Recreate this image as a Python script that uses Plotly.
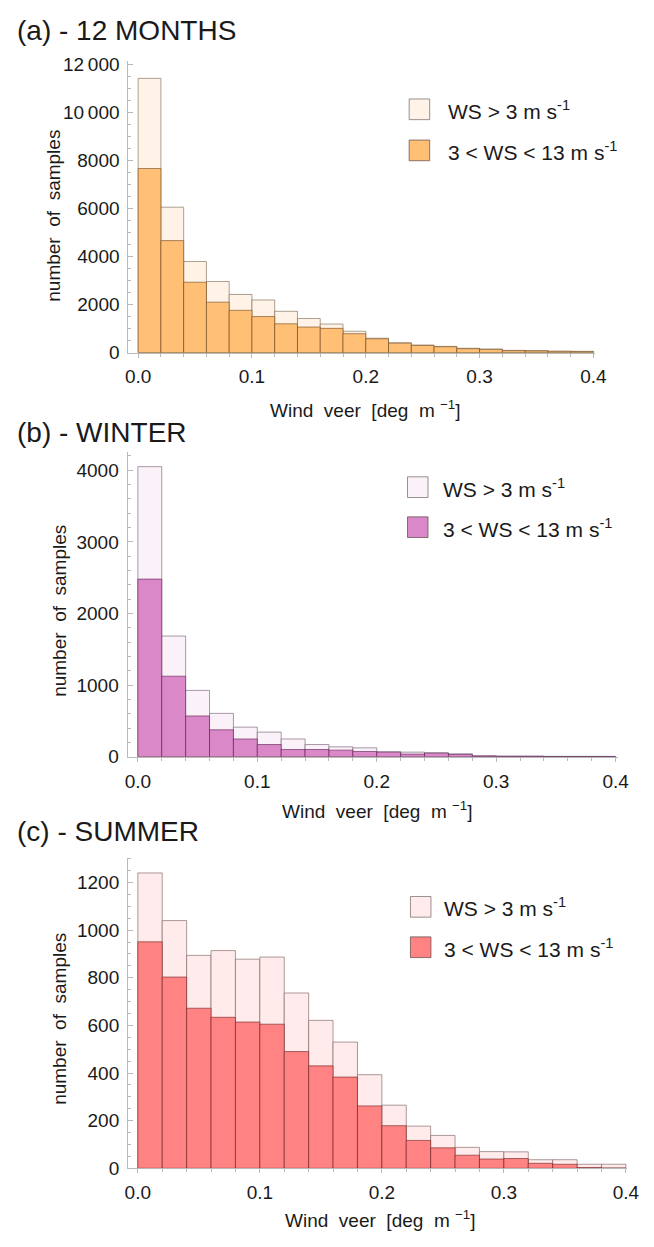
import plotly.graph_objects as go

W, H = 654, 1247

# ---- data ----
bin_left = [0.00, 0.02, 0.04, 0.06, 0.08, 0.10, 0.12, 0.14, 0.16, 0.18,
            0.20, 0.22, 0.24, 0.26, 0.28, 0.30, 0.32, 0.34, 0.36, 0.38]
bin_width = 0.02

a_total = [11410, 6050, 3790, 2960, 2420, 2190, 1720, 1420, 1190, 890,
           600, 410, 315, 260, 180, 150, 95, 85, 60, 55]
a_sub = [7660, 4660, 2930, 2100, 1760, 1500, 1200, 1065, 1010, 790,
         575, 395, 300, 245, 165, 135, 80, 70, 55, 45]

b_total = [4050, 1685, 926, 605, 413, 344, 248, 170, 138, 124,
           69, 64, 55, 41, 14, 9, 9, 5, 5, 5]
b_sub = [2480, 1124, 569, 376, 248, 170, 101, 101, 92, 73,
         64, 37, 50, 32, 9, 5, 5, 3, 3, 3]

c_total = [1240, 1040, 894, 914, 878, 887, 736, 621, 530, 393,
           265, 177, 138, 88, 70, 69, 36, 36, 17, 17]
c_sub = [951, 803, 672, 634, 614, 605, 490, 430, 383, 262,
         179, 117, 86, 55, 39, 41, 21, 17, 3, 1]

x_tickvals = [0.0, 0.1, 0.2, 0.3, 0.4]
x_ticktext = ["0.0", "0.1", "0.2", "0.3", "0.4"]

a_tickvals = [0, 2000, 4000, 6000, 8000, 10000, 12000]
a_ticktext = ["0", "2000", "4000", "6000", "8000", "10\u2009000", "12\u2009000"]
b_tickvals = [0, 1000, 2000, 3000, 4000]
b_ticktext = ["0", "1000", "2000", "3000", "4000"]
c_tickvals = [0, 200, 400, 600, 800, 1000, 1200]
c_ticktext = ["0", "200", "400", "600", "800", "1000", "1200"]

titles = ["(a) - 12 MONTHS", "(b) - WINTER", "(c) - SUMMER"]
legend_labels = ["WS > 3 m s<sup>-1</sup>", "3 < WS < 13 m s<sup>-1</sup>"]

# ---- styling / geometry (pixels in the window) ----
FONT = "Liberation Sans, Arial, Helvetica, sans-serif"
TXT = "#1a1a1a"
AXC = "#b8b8b8"

panels = [
    dict(total=a_total, sub=a_sub, tv=a_tickvals, tt=a_ticktext, minor=500,
         light="#FEF3E6", strong="#FFBF75", edge_l="rgba(120,100,80,0.6)", edge_s="rgba(110,70,30,0.6)",
         box=(128.3, 606, 55, 350.7), xr=(-0.0086, 0.4015), yr=(0, 12123),
         title_y=23.5, ylab=(52, 212), xlab=(371, 408),
         leg_sq=(415.7, 93.3, 135.0), leg_tx=453.0),
    dict(total=b_total, sub=b_sub, tv=b_tickvals, tt=b_ticktext, minor=200,
         light="#FBF1F8", strong="#DA88C7", edge_l="rgba(110,90,110,0.6)", edge_s="rgba(90,30,80,0.6)",
         box=(127.5, 629, 452, 760.7), xr=(-0.0086, 0.4016), yr=(0, 4248),
         title_y=431.7, ylab=(57, 613), xlab=(383, 815),
         leg_sq=(414.0, 476.7, 517.3), leg_tx=448.0),
    dict(total=c_total, sub=c_sub, tv=c_tickvals, tt=c_ticktext, minor=50,
         light="#FFEBEB", strong="#FF8383", edge_l="rgba(120,90,90,0.6)", edge_s="rgba(110,30,30,0.6)",
         box=(128, 639, 863, 1178.3), xr=(-0.008, 0.4012), yr=(0, 1304.7),
         title_y=837, ylab=(57, 1027), xlab=(386, 1230),
         leg_sq=(417.0, 902.5, 943.5), leg_tx=449.0),
]


def px(x):
    return x / W


def py(y):
    return 1 - y / H


fig = go.Figure()
shapes = []
annotations = []

for i, p in enumerate(panels):
    sfx = "" if i == 0 else str(i + 1)
    xa, ya = "x" + sfx, "y" + sfx
    fig.add_trace(go.Bar(x=bin_left, y=p["total"], width=bin_width, offset=0,
                         marker=dict(color=p["light"], line=dict(color=p["edge_l"], width=1)),
                         xaxis=xa, yaxis=ya, showlegend=False, name="WS > 3 m/s"))
    fig.add_trace(go.Bar(x=bin_left, y=p["sub"], width=bin_width, offset=0,
                         marker=dict(color=p["strong"], line=dict(color=p["edge_s"], width=1)),
                         xaxis=xa, yaxis=ya, showlegend=False, name="3 < WS < 13 m/s"))
    l, r, t, b = p["box"]
    xkey, ykey = "xaxis" + sfx, "yaxis" + sfx
    fig.layout[xkey] = dict(
        domain=[px(l), px(r)], range=list(p["xr"]), anchor=ya,
        showline=True, linecolor=AXC, linewidth=1, showgrid=False, zeroline=False,
        ticks="outside", ticklen=4, tickcolor=AXC, tickwidth=1,
        tickvals=x_tickvals, ticktext=x_ticktext, ticklabelstandoff=3,
        minor=dict(dtick=0.02, tick0=0, ticks="outside", ticklen=3, tickcolor=AXC, showgrid=False),
        tickfont=dict(family=FONT, size=19, color=TXT), fixedrange=True,
    )
    fig.layout[ykey] = dict(
        domain=[py(b), py(t)], range=list(p["yr"]), anchor=xa,
        showline=True, linecolor=AXC, linewidth=1, showgrid=False, zeroline=False,
        ticks="inside", ticklen=5, tickcolor=AXC, tickwidth=1,
        tickvals=p["tv"], ticktext=p["tt"], ticklabelstandoff=4,
        minor=dict(dtick=p["minor"], tick0=0, ticks="inside", ticklen=3, tickcolor=AXC, showgrid=False),
        tickfont=dict(family=FONT, size=19, color=TXT), fixedrange=True,
    )
    # panel title
    annotations.append(dict(text=titles[i], x=px(12), y=py(p["title_y"]), xref="paper", yref="paper",
                            xanchor="left", yanchor="middle", showarrow=False,
                            font=dict(family=FONT, size=28, color=TXT)))
    # y label
    annotations.append(dict(text="number  of  samples", x=px(p["ylab"][0]), y=py(p["ylab"][1]),
                            xref="paper", yref="paper", xanchor="center", yanchor="middle",
                            textangle=-90, showarrow=False,
                            font=dict(family=FONT, size=19, color=TXT)))
    # x label
    annotations.append(dict(text="Wind  veer  [deg  m <sup>\u22121</sup>]", x=px(p["xlab"][0]), y=py(p["xlab"][1]),
                            xref="paper", yref="paper", xanchor="center", yanchor="middle",
                            showarrow=False, font=dict(family=FONT, size=19, color=TXT)))
    # legend
    sx = p["leg_sq"][0]
    for j, (sy, col, ec) in enumerate([(p["leg_sq"][1], p["light"], "rgba(110,100,100,0.7)"),
                                       (p["leg_sq"][2], p["strong"], "rgba(90,70,70,0.7)")]):
        shapes.append(dict(type="rect", xref="paper", yref="paper",
                           x0=px(sx), x1=px(sx + 21), y0=py(sy + 21), y1=py(sy),
                           fillcolor=col, line=dict(color=ec, width=1)))
        annotations.append(dict(text=legend_labels[j], x=px(p["leg_tx"]), y=py(sy + 11),
                                xref="paper", yref="paper", xanchor="left", yanchor="middle",
                                showarrow=False, font=dict(family=FONT, size=21, color=TXT)))

fig.update_layout(
    width=W, height=H, margin=dict(l=0, r=0, t=0, b=0),
    paper_bgcolor="white", plot_bgcolor="white",
    barmode="overlay", bargap=0, showlegend=False, hovermode=False,
    shapes=shapes, annotations=annotations,
)

fig.write_html("out.html", config={"displayModeBar": False, "staticPlot": True},
               post_script="document.body.style.margin='0px';document.body.style.overflow='hidden';")
